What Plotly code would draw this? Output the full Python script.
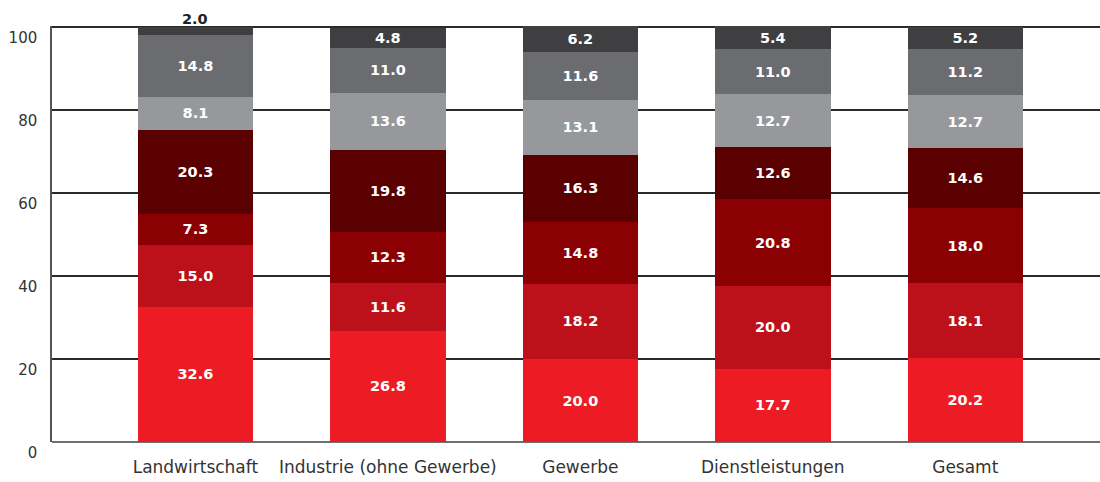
import plotly.graph_objects as go

categories = ["Landwirtschaft", "Industrie (ohne Gewerbe)", "Gewerbe", "Dienstleistungen", "Gesamt"]

s1 = [32.6, 26.8, 20.0, 17.7, 20.2]
s2 = [15.0, 11.6, 18.2, 20.0, 18.1]
s3 = [7.3, 12.3, 14.8, 20.8, 18.0]
s4 = [20.3, 19.8, 16.3, 12.6, 14.6]
s5 = [8.1, 13.6, 13.1, 12.7, 12.7]
s6 = [14.8, 11.0, 11.6, 11.0, 11.2]
s7 = [2.0, 4.8, 6.2, 5.4, 5.2]

series = [s1, s2, s3, s4, s5, s6, s7]
colors = ["#ED1C24", "#BC111A", "#8A0003", "#5A0000", "#97989C", "#6B6C70", "#3F3F41"]

tick_vals = [0, 20, 40, 60, 80, 100]

fig = go.Figure()
font_family = "DejaVu Sans, sans-serif"
small_limit = 3.0

for i, (vals, col) in enumerate(zip(series, colors)):
    texts = [f"{v:.1f}" if v >= small_limit else "" for v in vals]
    fig.add_trace(go.Bar(
        x=categories, y=vals, marker=dict(color=col, line=dict(width=0)),
        text=texts, textposition="inside",
        insidetextanchor="middle",
        textangle=0,
        constraintext="none",
        insidetextfont=dict(color="white", size=14.5, family=font_family, weight="bold"),
        cliponaxis=False,
        showlegend=False,
    ))

totals = [sum(s[j] for s in series) for j in range(len(categories))]
ymax = 100.3

fig.update_layout(
    barmode="stack",
    bargap=0.4,
    width=1100, height=482,
    margin=dict(l=52, r=0, t=26, b=40),
    plot_bgcolor="white", paper_bgcolor="white",
    font=dict(family=font_family, color="#333333", size=15),
)

# labels for segments too thin to hold text: drawn just above the bar
for i, vals in enumerate(series):
    for j, v in enumerate(vals):
        if v < small_limit:
            fig.add_annotation(
                x=categories[j], xref="x", y=1, yref="paper", text=f"{v:.1f}", showarrow=False,
                yanchor="bottom", yshift=-3,
                font=dict(color="#222222", size=14.5, family=font_family, weight="bold"),
            )

fig.update_xaxes(
    range=[-0.745, 4.70], showgrid=False, ticks="", tickfont=dict(size=17, color="#333333"),
    showline=False, zeroline=False, ticklabelstandoff=13,
)
fig.update_yaxes(
    range=[0, ymax], tickvals=tick_vals, showgrid=True, gridcolor="#2a2a2a", gridwidth=1.5,
    zeroline=True, zerolinecolor="#707070", zerolinewidth=2,
    showline=True, linecolor="#555555", linewidth=1.5,
    ticks="", tickfont=dict(size=15, color="#333333"), ticklabelshift=11, ticklabelstandoff=10,
)

fig.write_html("out.html", config={"displayModeBar": False},
               post_script="document.body.style.margin='0';document.body.style.padding='0';")
